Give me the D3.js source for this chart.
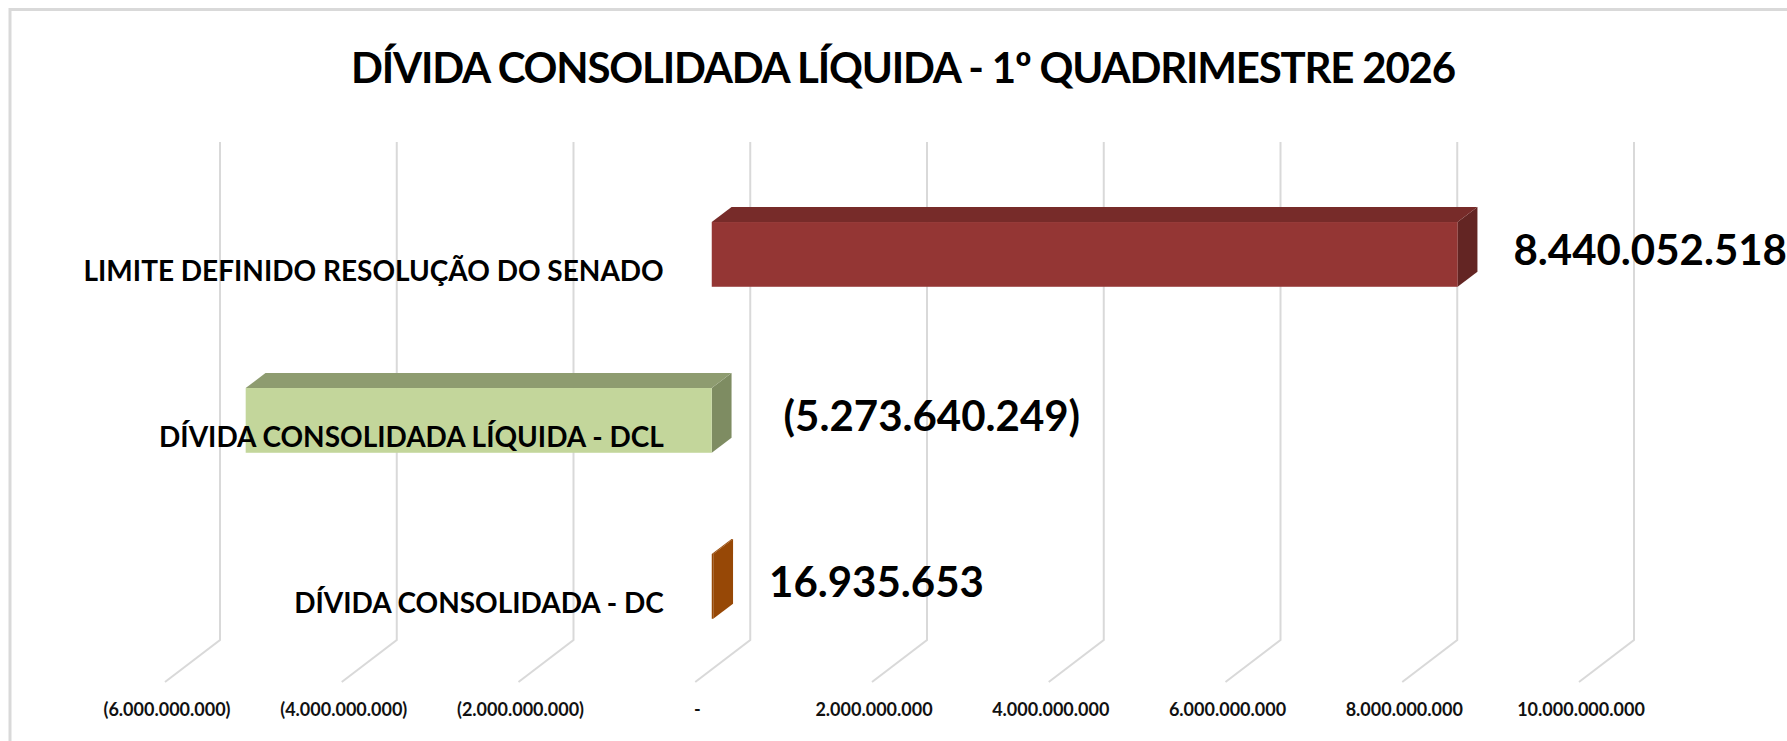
<!DOCTYPE html>
<html lang="pt">
<head>
  <meta charset="UTF-8">
  <title>Dívida Consolidada Líquida</title>
  <style>
    body {
      margin: 0;
      padding: 0;
      background: #fff;
    }
    svg {
      display: block;
      font-family: Lato, "Liberation Sans", sans-serif;
    }
    .grid {
      fill: none;
      stroke: #d9d9d9;
      stroke-width: 2;
    }
    .title {
      font-size: 42px;
      font-weight: bold;
      letter-spacing: -1.2px;
      fill: #000;
    }
    .cat {
      font-size: 28px;
      font-weight: bold;
      fill: #000;
    }
    .val {
      font-size: 42px;
      font-weight: bold;
      fill: #000;
    }
    .tick {
      font-size: 18px;
      font-weight: bold;
      fill: #111;
    }
  </style>
</head>
<body>
  <div id="chart"></div>
  <script src="https://d3js.org/d3.v7.min.js"></script>
  <script>
    // chart data
    const title = "DÍVIDA CONSOLIDADA LÍQUIDA - 1º QUADRIMESTRE 2026";
    const categories = [
      "LIMITE DEFINIDO RESOLUÇÃO DO SENADO",
      "DÍVIDA CONSOLIDADA LÍQUIDA - DCL",
      "DÍVIDA CONSOLIDADA - DC"
    ];
    const values = [8440052518, -5273640249, 16935653];
    const tickValues = [-6e9, -4e9, -2e9, 0, 2e9, 4e9, 6e9, 8e9, 10e9];

    // bar colours: front, top, side
    const colors = [
      ["#943634", "#772b29", "#632523"],
      ["#c3d69b", "#8e9c70", "#7e8c62"],
      ["#974806", "#974806", "#974806"]
    ];

    const width = 1787;
    const height = 741;

    const svg = d3.select("#chart")
      .append("svg")
      .attr("width", width)
      .attr("height", height);

    // outer frame
    svg.append("rect")
      .attr("x", 10)
      .attr("y", 9.5)
      .attr("width", width + 10)
      .attr("height", height + 10)
      .attr("fill", "none")
      .attr("stroke", "#d9d9d9")
      .attr("stroke-width", 3);

    const loc = d3.formatLocale({ decimal: ",", thousands: ".", grouping: [3], currency: ["", ""] });
    const fmtNum = loc.format(",.0f");
    const fmt = v => v < 0 ? "(" + fmtNum(-v) + ")" : fmtNum(v);
    const fmtTick = v => v === 0 ? "-" : fmt(v);

    // back wall scales
    const x = d3.scaleLinear().domain([-6e9, 10e9]).range([220, 1634]);
    const y = d3.scaleBand()
      .domain(categories)
      .range([142, 640])
      .paddingInner(0.61)
      .paddingOuter(0.305);

    // depth projection: 0 = back wall, 1 = front edge of floor
    const depth = { dx: -55, dy: 42 };
    const proj = d => [depth.dx * d, depth.dy * d];
    const dBack = 0.34, dFront = 0.70;
    const [fx, fy] = proj(dFront);
    const [bx, by] = proj(dBack);
    const [ex, ey] = proj(1);

    const floorY = y.range()[1];

    // gridlines: wall + floor
    svg.append("g")
      .selectAll("path")
      .data(tickValues)
      .join("path")
      .attr("class", "grid")
      .attr("d", d => `M${x(d)},${y.range()[0]}V${floorY}L${x(d) + ex},${floorY + ey}`);

    // tick labels
    svg.append("g")
      .selectAll("text")
      .data(tickValues)
      .join("text")
      .attr("class", "tick")
      .attr("x", d => x(d) + ex + 2)
      .attr("y", floorY + ey + 27)
      .attr("dominant-baseline", "central")
      .attr("text-anchor", "middle")
      .text(fmtTick);

    // 3D bars
    const bars = svg.append("g")
      .selectAll("g")
      .data(categories.map((c, i) => ({ cat: c, value: values[i], col: colors[i] })))
      .join("g");

    const x0 = d => x(Math.min(0, d.value));
    const x1 = d => x(Math.max(0, d.value));
    const yt = d => y(d.cat);
    const yb = d => y(d.cat) + y.bandwidth();

    bars.append("path")
      .attr("fill", d => d.col[2])
      .attr("d", d => `M${x1(d) + fx},${yt(d) + fy}L${x1(d) + bx},${yt(d) + by}L${x1(d) + bx},${yb(d) + by}L${x1(d) + fx},${yb(d) + fy}Z`);

    bars.append("path")
      .attr("fill", d => d.col[1])
      .attr("d", d => `M${x0(d) + fx},${yt(d) + fy}L${x1(d) + fx},${yt(d) + fy}L${x1(d) + bx},${yt(d) + by}L${x0(d) + bx},${yt(d) + by}Z`);

    bars.append("rect")
      .attr("fill", d => d.col[0])
      .attr("x", d => x0(d) + fx)
      .attr("y", d => yt(d) + fy)
      .attr("width", d => x1(d) - x0(d))
      .attr("height", y.bandwidth());

    // category labels
    svg.append("g")
      .selectAll("text")
      .data(categories)
      .join("text")
      .attr("class", "cat")
      .attr("x", x(0) + fx - 48)
      .attr("y", d => y(d) + fy + y.bandwidth() / 2 + 16)
      .attr("dominant-baseline", "central")
      .attr("text-anchor", "end")
      .text(d => d);

    // value labels
    svg.append("g")
      .selectAll("text")
      .data(categories.map((c, i) => ({ cat: c, value: values[i] })))
      .join("text")
      .attr("class", "val")
      .attr("x", d => x(Math.max(0, d.value)) + bx + (d.value < 0 ? 52 : 36))
      .attr("y", d => y(d.cat) + fy + y.bandwidth() / 2 - 5)
      .attr("dominant-baseline", "central")
      .text(d => fmt(d.value));

    // title
    svg.append("text")
      .attr("class", "title")
      .attr("x", 903)
      .attr("y", 83)
      .attr("text-anchor", "middle")
      .text(title);
  </script>
</body>
</html>
